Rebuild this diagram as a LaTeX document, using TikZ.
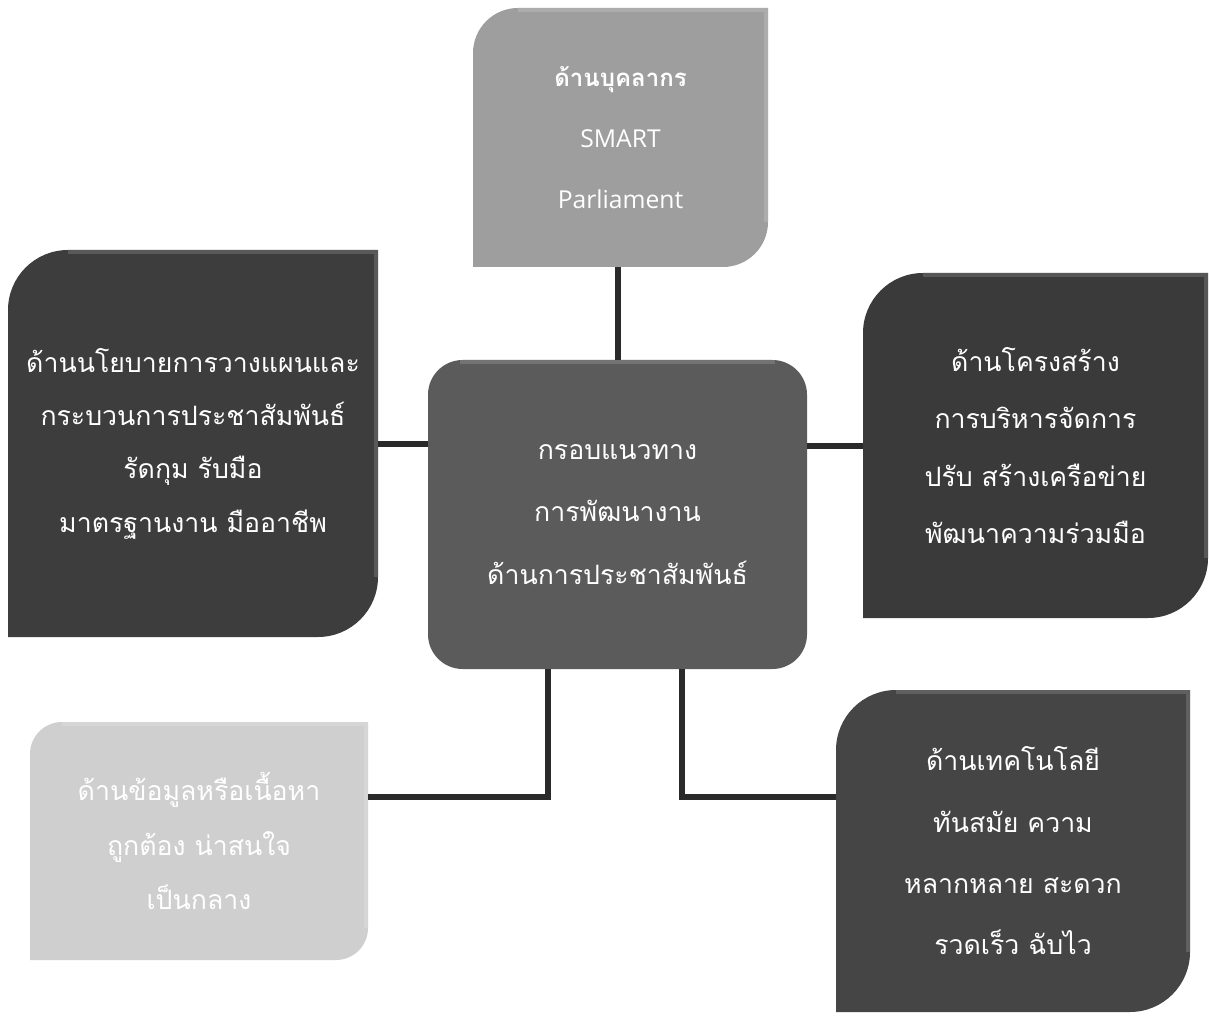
\documentclass[tikz,border=0pt]{standalone}
\usepackage{fontspec}
\newfontfamily\thaifont[Script=Thai]{Loma}
\newfontfamily\latfont{Open Sans}
\definecolor{cTop}{HTML}{9E9E9E}
\definecolor{cLeft}{HTML}{3D3D3D}
\definecolor{cCenter}{HTML}{5B5B5B}
\definecolor{cRight}{HTML}{3A3A3A}
\definecolor{cBL}{HTML}{CFCFCF}
\definecolor{cBR}{HTML}{454545}
\definecolor{cLine}{HTML}{2A2A2A}
\tikzset{
  x=0.75pt, y=-0.75pt,
  boxtext/.style={text=white, align=center, inner sep=0pt},
  conn/.style={draw=cLine, line width=4.5pt, line cap=butt, line join=miter},
  bevel/.style={draw=white, opacity=0.15, line width=2.5pt},
}
% #1 name, #2 x1, #3 y1, #4 x2, #5 y2, #6 radius, #7 colour, #8 font, #9 text
\newcommand\mydiagbox[9]{%
  \fill[#7] (#2,#5) -- (#2,{#3+#6}) .. controls (#2,{#3+0.448*#6}) and ({#2+0.448*#6},#3) .. ({#2+#6},#3)
     -- (#4,#3) -- (#4,{#5-#6}) .. controls (#4,{#5-0.448*#6}) and ({#4-0.448*#6},#5) .. ({#4-#6},#5) -- cycle;
  \draw[bevel] ({#2+#6},{#3+2}) -- ({#4-2},{#3+2}) -- ({#4-2},{#5-#6});
  \node[boxtext, font=#8, minimum width={(#4-#2)*0.75pt}, minimum height={(#5-#3)*0.75pt}]
     (#1) at ({(#2+#4)/2},{(#3+#5)/2}) {#9};
}
\begin{document}
\begin{tikzpicture}
\useasboundingbox[fill=white] (0,0) rectangle (1209,1019);

% top box
\mydiagbox{top}{473}{8}{768}{267}{45}{cTop}{\thaifont\fontsize{18}{46}\selectfont}%
  {{\bfseries ด้านบุคลากร}\\{\latfont\fontsize{18.5}{46}\selectfont SMART}\\{\latfont\fontsize{18.5}{46}\selectfont Parliament}}
% left box
\mydiagbox{left}{8}{250}{378}{637}{60}{cLeft}{\thaifont\fontsize{20}{40}\selectfont}%
  {ด้านนโยบายการวางแผนและ\\กระบวนการประชาสัมพันธ์\\รัดกุม รับมือ\\มาตรฐานงาน มืออาชีพ}
% right box
\mydiagbox{right}{863}{273}{1208}{618}{60}{cRight}{\thaifont\fontsize{20}{43}\selectfont}%
  {ด้านโครงสร้าง\\การบริหารจัดการ\\ปรับ สร้างเครือข่าย\\พัฒนาความร่วมมือ}
% bottom-left box
\mydiagbox{bl}{30}{722}{368}{960}{32}{cBL}{\thaifont\fontsize{20}{41}\selectfont}%
  {ด้านข้อมูลหรือเนื้อหา\\ถูกต้อง น่าสนใจ\\เป็นกลาง}
% bottom-right box
\mydiagbox{br}{836}{690}{1190}{1012}{60}{cBR}{\thaifont\fontsize{20}{46}\selectfont}%
  {ด้านเทคโนโลยี\\ทันสมัย ความ\\หลากหลาย สะดวก\\รวดเร็ว ฉับไว}

% center box
\node[boxtext, fill=cCenter, rounded corners=26pt,
      minimum width=284.25pt, minimum height=231.75pt,
      font=\thaifont\fontsize{20}{47}\selectfont] (center) at (617.5,514.5)
  {กรอบแนวทาง\\การพัฒนางาน\\ด้านการประชาสัมพันธ์};
\draw[bevel] (460,362) -- (775,362);

% connection points
\coordinate (cb1) at (548,669);
\coordinate (cb2) at (682,669);
\coordinate (blin) at (368,797);
\coordinate (brin) at (836,797);

% connectors
\draw[conn] (center.north |- top.south) -- (center.north);
\draw[conn] (left.east) -- (left.east -| center.west);
\draw[conn] (right.west) -- (right.west -| center.east);
\draw[conn] (cb1) |- (blin);
\draw[conn] (cb2) |- (brin);
\end{tikzpicture}
\end{document}
